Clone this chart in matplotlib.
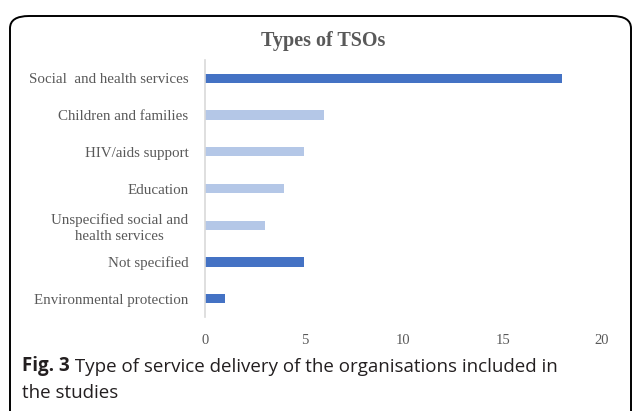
import matplotlib
matplotlib.use("Agg")
import matplotlib.pyplot as plt
from matplotlib.patches import FancyBboxPatch

categories = [
    "Social  and health services",
    "Children and families",
    "HIV/aids support",
    "Education",
    "Unspecified social and\nhealth services",
    "Not specified",
    "Environmental protection",
]
counts = [18, 6, 5, 4, 3, 5, 1]
dark = "#4472C4"
light = "#B4C7E7"
bar_colors = [dark, light, light, light, light, dark, dark]
xticks = [0, 5, 10, 15, 20]

serif = ["Liberation Serif", "DejaVu Serif"]
grey = "#595959"

fig = plt.figure(figsize=(6.35, 4.11), dpi=100)

# rounded frame around the panel, bottom runs off the image
frame = FancyBboxPatch((10 / 635, -0.05), 621 / 635, 1 - 16 / 411 + 0.05,
                       boxstyle="round,pad=0,rounding_size=0.03",
                       transform=fig.transFigure, fill=False,
                       edgecolor="black", linewidth=1.4)
fig.patches.append(frame)

ax = fig.add_axes([205 / 635, 1 - 317 / 411, 397 / 635, 257 / 411])
ypos = list(range(len(categories)))
ax.barh(ypos, counts, height=0.25, color=bar_colors)

ax.set_xlim(0, 20)
ax.set_ylim(len(categories) - 0.5, -0.5)
ax.set_yticks(ypos)
ax.set_yticklabels(categories, fontfamily=serif, fontsize=10.8, color=grey,
                   linespacing=1.3)
for lab in ax.get_yticklabels():
    lab.set_multialignment("center")
ax.set_xticks(xticks)
ax.set_xticklabels([str(v) for v in xticks], fontfamily=serif, fontsize=10.5,
                   color=grey)
ax.tick_params(axis="both", length=0)
ax.tick_params(axis="y", pad=12)
ax.tick_params(axis="x", pad=12)
for s in ["top", "right", "bottom"]:
    ax.spines[s].set_visible(False)
ax.spines["left"].set_color("#d9d9d9")
ax.spines["left"].set_linewidth(1.2)

fig.text(323 / 635, 1 - 41 / 411, "Types of TSOs", ha="center", va="center",
         fontfamily=serif, fontsize=14.5, fontweight="bold", color=grey)

cap = ["Open Sans", "DejaVu Sans"]
capcol = "#231f20"
t1 = fig.text(22 / 635, 1 - 366 / 411, "Fig. 3", ha="left", va="center",
              fontfamily=cap, fontsize=13.5, fontweight="bold", color=capcol)
ax.annotate(" Type of service delivery of the organisations included in",
            xy=(1, 0), xycoords=t1, ha="left", va="bottom",
            fontfamily=cap, fontsize=13.5, color=capcol,
            annotation_clip=False)
fig.text(22 / 635, 1 - 393 / 411, "the studies", ha="left", va="center",
         fontfamily=cap, fontsize=13.5, color=capcol)

fig.savefig("out.png", dpi=100)
